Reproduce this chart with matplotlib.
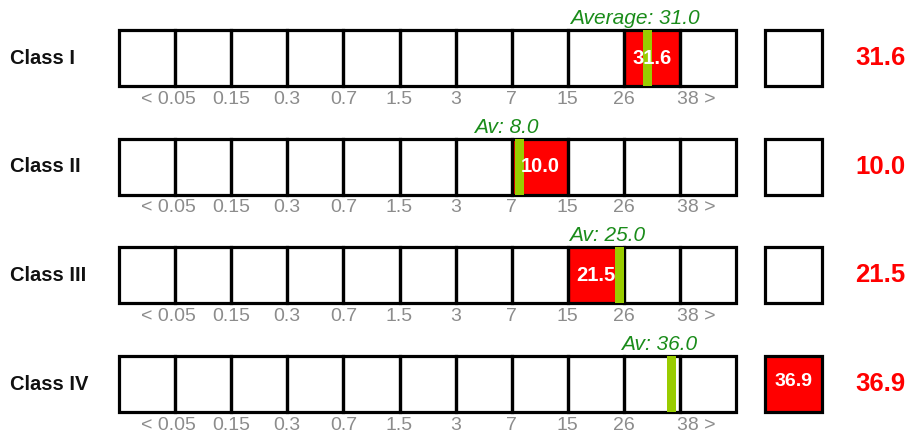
import numpy as np
import matplotlib.pyplot as plt
from matplotlib.patches import Rectangle

plt.rcParams['font.family'] = ['Liberation Sans', 'DejaVu Sans']

# data
classes = ['Class I', 'Class II', 'Class III', 'Class IV']
values = [31.6, 10.0, 21.5, 36.9]
averages = [31.0, 8.0, 25.0, 36.0]
avg_labels = ['Average: 31.0', 'Av: 8.0', 'Av: 25.0', 'Av: 36.0']
in_extra_box = [False, False, False, True]
edges = [0.0, 0.05, 0.15, 0.3, 0.7, 1.5, 3, 7, 15, 26, 38, 50]
tick_labels = ['< 0.05', '0.15', '0.3', '0.7', '1.5', '3', '7', '15', '26', '38 >']

# layout (pixels)
x0, cw = 119, 56.1
row_top, row_step, rh = 30, 108.7, 56
box_x, box_w = 765, 57
ncell = len(edges) - 1


def pos(v):
    # fractional cell index for a value
    i = np.searchsorted(edges, v, side='right') - 1
    i = min(max(i, 0), ncell - 1)
    return i + (v - edges[i]) / (edges[i + 1] - edges[i])


fig = plt.figure(figsize=(9.1, 4.36), dpi=100)
ax = fig.add_axes([0, 0, 1, 1])
ax.set_xlim(0, 910)
ax.set_ylim(436, 0)
ax.axis('off')

red = '#ff0000'
green_bar = '#99cc00'
green_txt = '#1a8c1a'

for r, name in enumerate(classes):
    top = row_top + r * row_step
    cy = top + rh / 2
    ax.text(10, cy, name, ha='left', va='center', fontsize=14.5,
            fontweight='bold', color='#111111')

    v = values[r]
    if in_extra_box[r]:
        ax.add_patch(Rectangle((box_x, top), box_w, rh, facecolor=red,
                               edgecolor='none', zorder=1))
        ax.text(box_x + box_w / 2, cy - 3, f'{v:.1f}', ha='center', va='center',
                fontsize=14, fontweight='bold', color='white', zorder=5)
    else:
        ci = int(pos(v))
        ax.add_patch(Rectangle((x0 + ci * cw, top), cw, rh, facecolor=red,
                               edgecolor='none', zorder=1))
        ax.text(x0 + (ci + 0.5) * cw, cy, f'{v:.1f}', ha='center', va='center',
                fontsize=14.5, fontweight='bold', color='white', zorder=5)

    # cells
    for c in range(ncell):
        ax.add_patch(Rectangle((x0 + c * cw, top), cw, rh, facecolor='none',
                               edgecolor='black', lw=2.3, zorder=3))
    ax.add_patch(Rectangle((box_x, top), box_w, rh, facecolor='none',
                           edgecolor='black', lw=2.3, zorder=3))

    # average marker
    ax_ = x0 + pos(averages[r]) * cw
    ax.add_patch(Rectangle((ax_ - 4, top), 9, rh, facecolor=green_bar,
                           edgecolor='none', zorder=4))
    ax.text(ax_ - 12, top - 2, avg_labels[r], ha='center', va='bottom',
            fontsize=15, style='italic', color=green_txt)

    # tick labels at inner boundaries
    for k, lab in enumerate(tick_labels):
        xx = x0 + (k + 1) * cw
        if lab.startswith('<'):
            xx -= 7
        elif lab.endswith('>'):
            xx += 16
        ax.text(xx, top + rh + 13, lab, ha='center', va='center',
                fontsize=14, color='#8c8c8c')

    ax.text(880, cy, f'{v:.1f}', ha='center', va='center', fontsize=18.5,
            fontweight='bold', color=red)

fig.savefig('out.png', dpi=100)
